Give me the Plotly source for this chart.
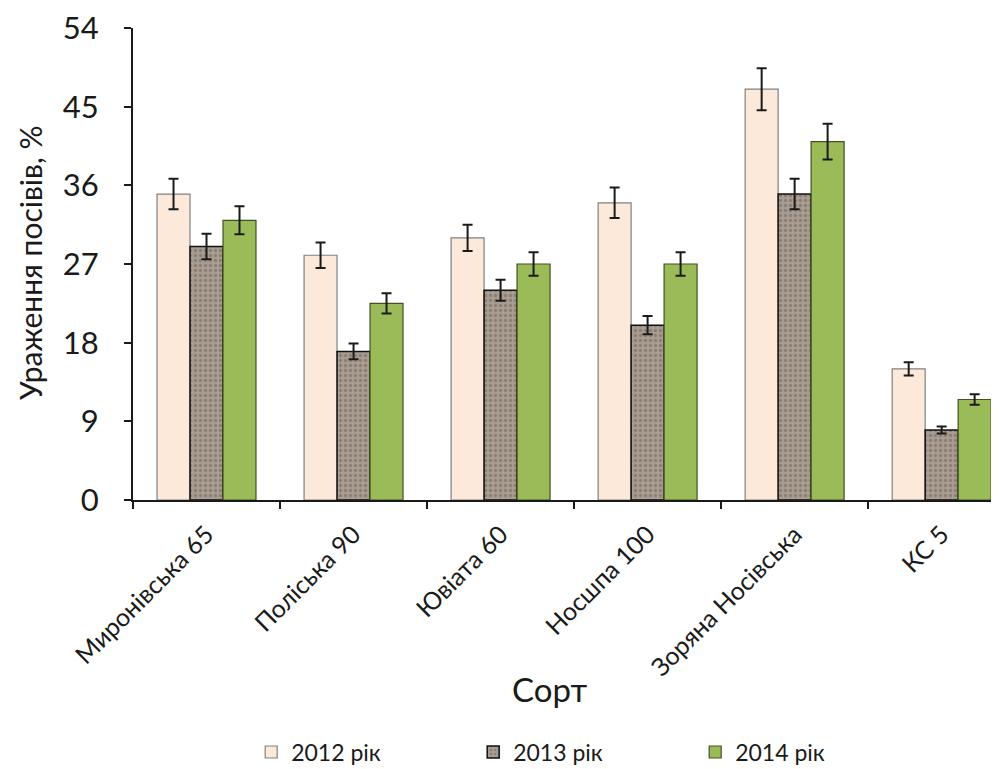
import plotly.graph_objects as go

categories = ["Миронівська 65", "Поліська 90", "Ювіата 60", "Носшпа 100", "Зоряна Носівська", "КС 5"]
series_names = ["2012 рік", "2013 рік", "2014 рік"]
v2012 = [35, 28, 30, 34, 47, 15]
v2013 = [29, 17, 24, 20, 35, 8]
v2014 = [32, 22.5, 27, 27, 41, 11.5]
e2012 = [1.75, 1.45, 1.5, 1.75, 2.4, 0.75]
e2013 = [1.45, 0.9, 1.2, 1.05, 1.75, 0.4]
e2014 = [1.6, 1.15, 1.35, 1.35, 2.05, 0.6]
y_ticks = [0, 9, 18, 27, 36, 45, 54]

FONT = "Lato"

fig = go.Figure()

err_style = dict(type="data", visible=True, color="#1a1a1a", thickness=2, width=5)

fig.add_trace(go.Bar(
    name=series_names[0], x=categories, y=v2012,
    error_y=dict(array=e2012, **err_style),
    marker=dict(color="#FDE9D9", line=dict(color="#808080", width=1.2)),
))
fig.add_trace(go.Bar(
    name=series_names[1], x=categories, y=v2013,
    error_y=dict(array=e2013, **err_style),
    marker=dict(color="#a0938a", line=dict(color="#111111", width=1.5),
                pattern=dict(shape=".", fgcolor="#6e6158", bgcolor="#a99d92",
                             size=5, solidity=0.35)),
))
fig.add_trace(go.Bar(
    name=series_names[2], x=categories, y=v2014,
    error_y=dict(array=e2014, **err_style),
    marker=dict(color="#9BBB59", line=dict(color="#3f5220", width=1.2)),
))

fig.update_layout(
    width=991, height=761,
    margin=dict(l=125, r=0, t=20, b=269, autoexpand=False),
    paper_bgcolor="white", plot_bgcolor="white",
    barmode="group", bargap=0.327, bargroupgap=0,
    font=dict(family=FONT, color="#1a1a1a"),
    showlegend=True,
    legend=dict(orientation="h", xanchor="center", yanchor="middle",
                x=0.521, y=-0.534, font=dict(size=23, family=FONT),
                entrywidth=177, itemwidth=30, traceorder="normal"),
)

fig.update_xaxes(
    range=[-0.5, 5.39], automargin=False,
    showline=True, linecolor="#1a1a1a", linewidth=2,
    ticks="outside", tickson="boundaries", ticklen=7, tickwidth=2, tickcolor="#1a1a1a",
    tickangle=-45, tickfont=dict(size=25, family=FONT),
    ticklabelstandoff=8, ticklabeloverflow="allow",
    showgrid=False, zeroline=False,
)
fig.update_yaxes(
    range=[0, 54], tickvals=y_ticks, ticktext=[str(t) for t in y_ticks],
    automargin=False,
    showline=True, linecolor="#1a1a1a", linewidth=2,
    ticks="outside", ticklen=7, tickwidth=2, tickcolor="#1a1a1a",
    tickfont=dict(size=31, family=FONT), ticklabelstandoff=19,
    ticklabeloverflow="allow",
    showgrid=False, zeroline=False,
)

fig.add_annotation(text="Ураження посівів, %", textangle=-90,
                   xref="paper", yref="paper", x=-0.119, y=0.504,
                   showarrow=False, font=dict(size=30, family=FONT),
                   xanchor="center", yanchor="middle")
fig.add_annotation(text="Сорт", xref="paper", yref="paper",
                   x=0.481, y=-0.40, showarrow=False,
                   font=dict(size=33, family=FONT),
                   xanchor="center", yanchor="middle")

fig.write_html("out.html")
